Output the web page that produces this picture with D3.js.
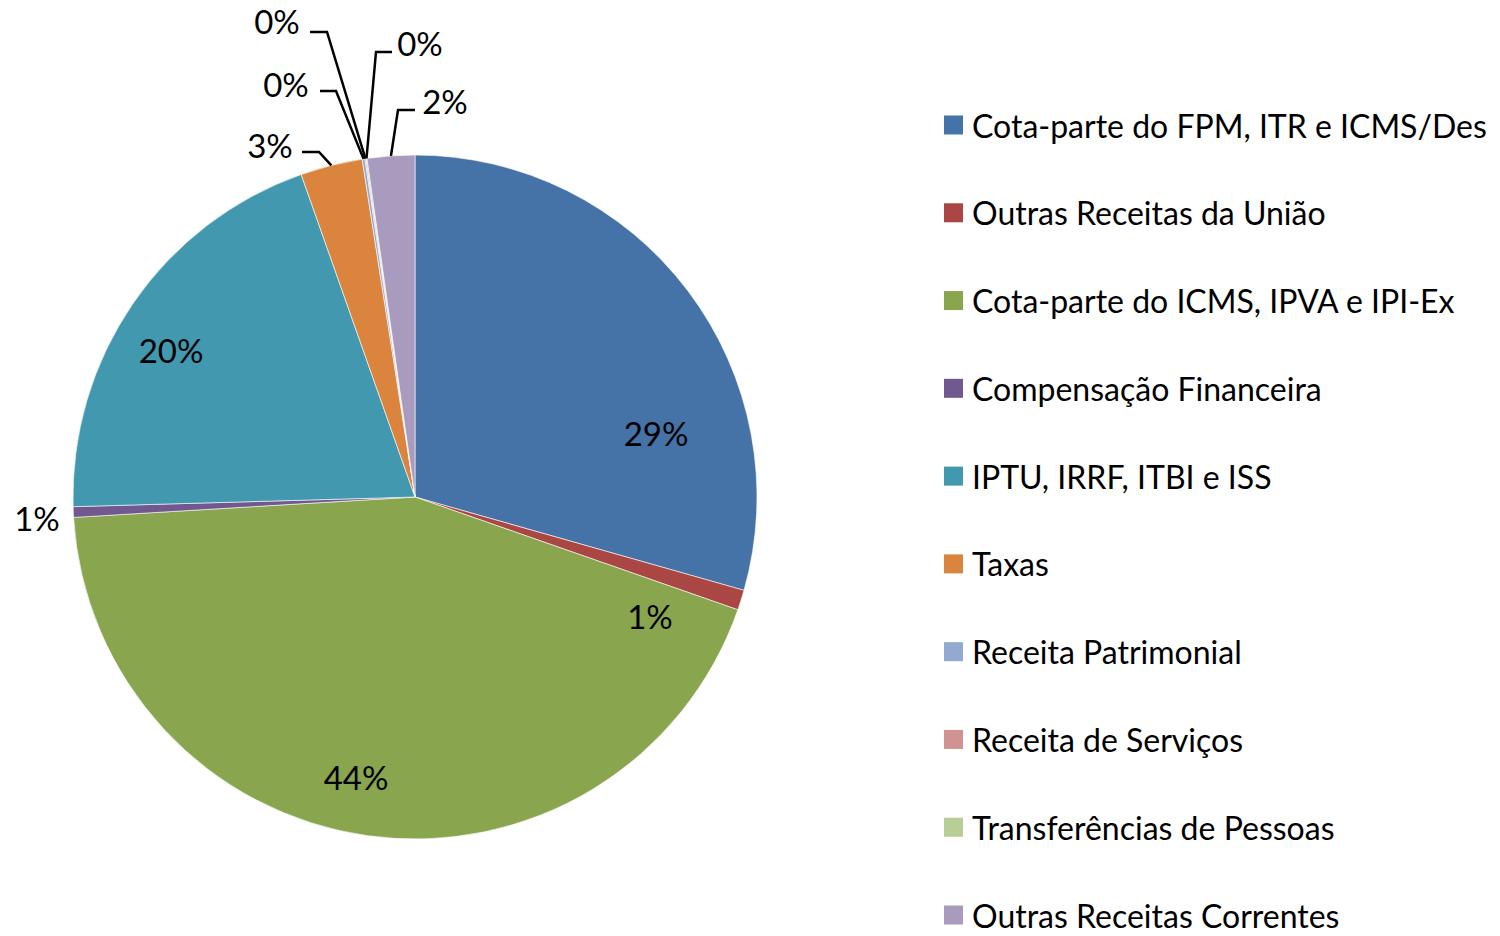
<!DOCTYPE html>
<html>
<head>
<meta charset="utf-8">
<script src="https://cdn.jsdelivr.net/npm/d3@7"></script>
<style>
  body { margin: 0; background: #fff; }
  svg text { font-family: Lato, "Open Sans", sans-serif; fill: #000; }
</style>
</head>
<body>
<div id="chart"></div>
<script>
// categories and their shares (percent), clockwise from 12 o'clock
const categories = [
  'Cota-parte do FPM, ITR e ICMS/Des',
  'Outras Receitas da União',
  'Cota-parte do ICMS, IPVA e IPI-Ex',
  'Compensação Financeira',
  'IPTU, IRRF, ITBI e ISS',
  'Taxas',
  'Receita Patrimonial',
  'Receita de Serviços',
  'Transferências de Pessoas',
  'Outras Receitas Correntes'
];
const shares = [29.4, 0.95, 43.7, 0.5, 20.05, 2.93, 0.13, 0.05, 0.05, 2.24];
const colors = ['#4572A7', '#AA4643', '#89A54E', '#71588F', '#4198AF',
                '#DB843D', '#93A9CF', '#D19392', '#B9CD96', '#A99BBD'];

const width = 1500, height = 936;
const cx = 415, cy = 497, radius = 342;

// label placement (layout only): text centre, and for outside labels the
// horizontal leader segment [x1, x2] at height ly
const labelLayout = [
  {x: 656, y: 433},
  {x: 650, y: 616},
  {x: 356, y: 777},
  {x: 37,  y: 518},
  {x: 171, y: 350},
  {x: 270, y: 145, lx1: 302, lx2: 319, ly: 152},
  {x: 286, y: 84,  lx1: 320, lx2: 336, ly: 91},
  {x: 277, y: 21,  lx1: 310, lx2: 327, ly: 32},
  {x: 420, y: 43,  lx1: 392, lx2: 376, ly: 52},
  {x: 445, y: 101, lx1: 415, lx2: 398, ly: 110}
];

const svg = d3.select('#chart')
  .append('svg')
  .attr('width', width)
  .attr('height', height);

const pie = d3.pie().sort(null).value(d => d);
const arcs = pie(shares);
const arc = d3.arc().innerRadius(0).outerRadius(radius);

const g = svg.append('g').attr('transform', `translate(${cx},${cy})`);

g.selectAll('path.slice')
  .data(arcs)
  .enter()
  .append('path')
  .attr('class', 'slice')
  .attr('d', arc)
  .style('fill', (d, i) => colors[i])
  .style('stroke', '#fff')
  .style('stroke-width', 0.6);

const total = d3.sum(shares);
const fmt = v => Math.round(v / total * 100) + '%';

// leader lines for the thin slices at the top
arcs.forEach((d, i) => {
  const L = labelLayout[i];
  if (L.lx1 === undefined) return;
  const mid = (d.startAngle + d.endAngle) / 2;
  const ax = cx + radius * Math.sin(mid);
  const ay = cy - radius * Math.cos(mid);
  svg.append('polyline')
    .attr('points', [[L.lx1, L.ly], [L.lx2, L.ly], [ax, ay]].map(p => p.join(',')).join(' '))
    .style('fill', 'none')
    .style('stroke', '#000')
    .style('stroke-width', 2.5);
});

svg.selectAll('text.pct')
  .data(arcs)
  .enter()
  .append('text')
  .attr('class', 'pct')
  .attr('x', (d, i) => labelLayout[i].x)
  .attr('y', (d, i) => labelLayout[i].y)
  .attr('text-anchor', 'middle')
  .attr('dominant-baseline', 'central')
  .style('font-size', '33px')
  .text(d => fmt(d.value));

// legend
const legendY = d3.scalePoint().domain(categories).range([125, 915]);
const legend = svg.selectAll('g.legend')
  .data(categories)
  .enter()
  .append('g')
  .attr('class', 'legend')
  .attr('transform', d => `translate(944,${legendY(d)})`);

legend.append('rect')
  .attr('x', 0)
  .attr('y', -9.5)
  .attr('width', 19)
  .attr('height', 19)
  .style('fill', (d, i) => colors[i]);

legend.append('text')
  .attr('x', 28)
  .attr('y', 0)
  .attr('dominant-baseline', 'central')
  .style('font-size', '32px')
  .text(d => d);
</script>
</body>
</html>
